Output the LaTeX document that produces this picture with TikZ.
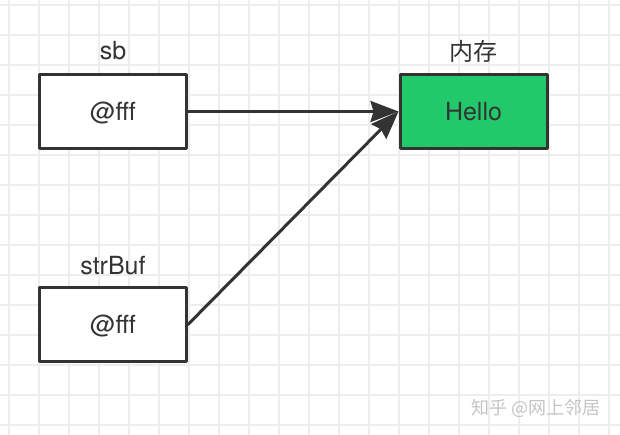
\documentclass[tikz,border=0pt]{standalone}
\usepackage{fontspec}
\setmainfont{TeX Gyre Heros}
\newfontfamily\cjk{Noto Sans CJK SC}
\usetikzlibrary{positioning,arrows.meta}
\definecolor{memgreen}{HTML}{22C96B}
\definecolor{inkgray}{HTML}{333333}
\definecolor{gridgray}{HTML}{EDEDED}
\definecolor{markgray}{HTML}{C4C4C4}

\begin{document}
\begin{tikzpicture}[x=1pt,y=-1pt,line cap=round,line join=round,
  >={Stealth[length=28pt,width=21pt,inset=3pt]},
  cell/.style={draw=inkgray,line width=3pt,minimum width=147pt,minimum height=74pt,
    inner sep=0pt,text depth=0pt,font=\fontsize{25}{30}\selectfont,text=inkgray},
  tag/.style={inner sep=0pt,text depth=0pt,font=\fontsize{25}{30}\selectfont,text=inkgray},
  link/.style={draw=inkgray,line width=3pt,->}]
  \useasboundingbox (0,0) rectangle (620,434);
  % background grid
  \foreach \gx in {9,39,...,609} \draw[gridgray,line width=1.5pt] (\gx,0) -- (\gx,434);
  \foreach \gy in {5,35,...,425} \draw[gridgray,line width=1.5pt] (0,\gy) -- (620,\gy);
  % boxes
  \node[cell,fill=white] (sb) at (113,111.5) {@fff};
  \node[cell,fill=white] (strbuf) at (113,324.5) {@fff};
  \node[cell,fill=memgreen] (mem) at (473.5,111.5) {Hello};
  % names
  \node[tag,above=13pt of sb] (sbname) {sb};
  \node[tag,above=11pt of strbuf] (strbufname) {strBuf};
  \node[tag,above=12pt of mem,font=\cjk\fontsize{24}{28}\selectfont] (memname) {内存};
  % references
  \draw[link] (sb) -- (mem);
  \draw[link] (strbuf.east) -- (mem.west);
  \node[text=markgray,font=\cjk\fontsize{18}{22}\selectfont] (mark) at (536,408) {知乎 @网上邻居};
\end{tikzpicture}
\end{document}
